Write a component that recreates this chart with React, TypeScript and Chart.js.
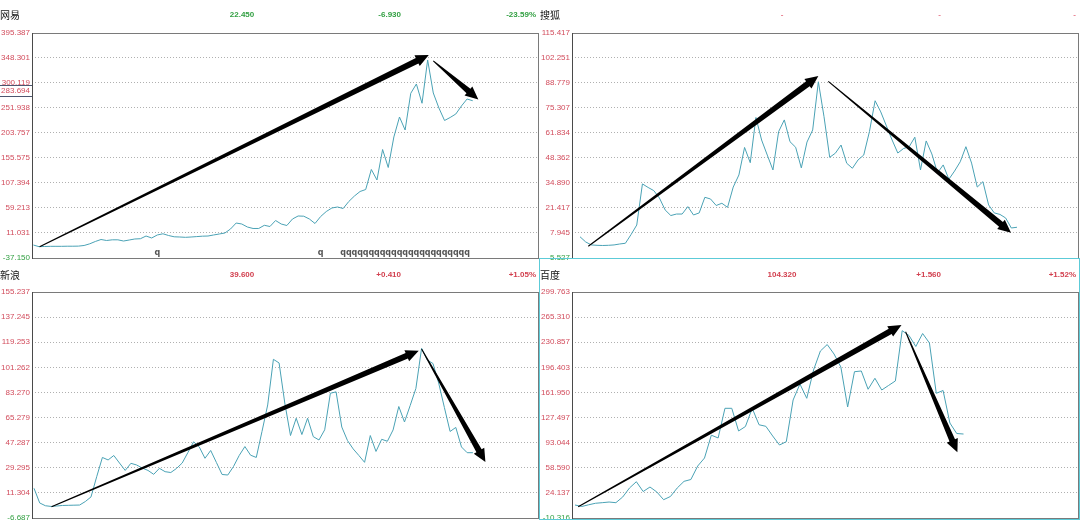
import React, { useEffect, useRef } from 'react';
import { Chart, registerables } from 'chart.js';

Chart.register(...registerables);

// ---------- data ----------
const P1_NAME = '网易';
const P1_QUOTE = ['22.450', '-6.930', '-23.59%'];
const P1_TICKS = [-37.15, 11.031, 59.213, 107.394, 155.575, 203.757, 251.938, 300.119, 348.301, 395.387];
const P1_VALUES = [
  -12.2, -15.4, -15.0, -14.7, -14.7, -14.7, -14.5, -14.5, -14.3, -13.1,
  -9.9, -5.4, -1.6, -3.5, -2.2, -2.2, -4.5, -2.6, -0.6, -0.1,
  5.1, 1.3, 7.1, 9.4, 6.1, 3.6, 3.2, 2.6, 3.2, 4.0,
  4.8, 5.1, 7.1, 9.0, 10.9, 18.6, 30.1, 28.2, 22.4, 19.6,
  19.6, 25.7, 23.4, 34.9, 28.2, 25.3, 37.8, 43.6, 43.2, 37.8,
  29.2, 42.6, 52.2, 59.0, 60.9, 58.0, 71.5, 82.0, 90.7, 94.5,
  133.0, 112.8, 171.4, 136.8, 195.5, 233.9, 208.9, 279.5, 297.4, 260.3,
  343.5, 280.1, 251.2, 227.2, 233.0, 239.7, 255.1, 268.5, 265.2,
];
const P1_MARKS = [22, 51, 55, 56, 57, 58, 59, 60, 61, 62, 63, 64, 65, 66, 67, 68, 69, 70, 71, 72, 73, 74, 75, 76, 77];
const P1_LAST = 283.694;
const P1_ARROWS = [
  [1.1, -15.4, 70.2, 353.1],
  [71.0, 341.6, 79.0, 267.6],
];

const P2_NAME = '搜狐';
const P2_QUOTE = ['-', '-', '-'];
const P2_TICKS = [-5.527, 7.945, 21.417, 34.89, 48.362, 61.834, 75.307, 88.779, 102.251, 115.417];
const P2_VALUES = [
  5.9, 3.1, 1.5, 1.3, 1.2, 1.3, 1.5, 2.0, 2.4, 7.1,
  12.2, 34.3, 32.4, 30.7, 26.7, 20.3, 17.3, 18.1, 18.1, 22.1,
  17.6, 18.7, 27.1, 26.2, 22.7, 23.9, 21.7, 32.6, 39.1, 53.9,
  45.7, 70.0, 57.9, 49.8, 41.8, 62.4, 68.7, 57.0, 54.0, 42.9,
  56.8, 63.3, 89.2, 70.4, 48.6, 50.8, 55.2, 45.4, 42.7, 47.2,
  49.8, 62.4, 79.0, 73.0, 65.4, 57.9, 50.9, 53.3, 54.3, 59.4,
  41.8, 57.4, 50.4, 40.2, 44.5, 36.8, 41.2, 46.2, 54.3, 45.5,
  32.6, 35.5, 23.0, 18.7, 17.9, 16.0, 10.6, 11.0,
];
const P2_ARROWS = [
  [1.46, 0.8, 42.0, 92.3],
  [43.75, 89.4, 75.95, 8.1],
];

const P3_NAME = '新浪';
const P3_QUOTE = ['39.600', '+0.410', '+1.05%'];
const P3_TICKS = [-6.687, 11.304, 29.295, 47.287, 65.279, 83.27, 101.262, 119.253, 137.245, 155.237];
const P3_VALUES = [
  14.6, 4.1, 2.1, 1.6, 1.9, 2.3, 2.4, 2.5, 2.6, 5.1,
  8.4, 22.9, 36.7, 34.9, 38.1, 32.7, 27.4, 32.5, 31.3, 29.1,
  27.4, 24.6, 28.9, 26.5, 25.9, 28.8, 32.7, 40.2, 47.9, 44.2,
  36.1, 41.7, 33.1, 24.5, 24.1, 30.2, 38.1, 44.5, 38.3, 36.7,
  55.3, 74.3, 107.0, 104.4, 75.7, 52.4, 64.8, 53.1, 64.8, 51.6,
  49.2, 56.5, 82.7, 83.7, 58.5, 48.8, 42.8, 38.1, 33.2, 52.4,
  41.0, 49.7, 48.3, 56.4, 73.2, 62.1, 73.9, 86.1, 114.9, 106.5,
  104.0, 90.0, 72.5, 55.3, 58.2, 44.2, 40.1, 40.1,
];
const P3_ARROWS = [
  [3.07, 1.4, 67.5, 113.2],
  [68.0, 114.4, 79.2, 33.4],
];

const P4_NAME = '百度';
const P4_QUOTE = ['104.320', '+1.560', '+1.52%'];
const P4_TICKS = [-10.316, 24.137, 58.59, 93.044, 127.497, 161.95, 196.403, 230.857, 265.31, 299.763];
const P4_VALUES = [
  7.5, 5.5, 7.8, 9.9, 10.7, 11.6, 10.7, 18.5, 30.9, 39.5,
  26.0, 32.2, 25.4, 14.8, 19.2, 30.9, 40.0, 42.5, 61.0, 72.0,
  103.3, 99.5, 140.2, 140.2, 109.1, 115.2, 140.2, 117.6, 115.5, 102.2,
  89.8, 94.4, 151.6, 173.5, 153.9, 192.8, 218.8, 227.7, 214.7, 196.9,
  142.0, 190.4, 191.4, 166.3, 181.4, 165.3, 171.5, 177.7, 246.7, 240.1,
  225.0, 242.8, 229.8, 160.8, 164.6, 120.0, 105.6, 104.9,
];
const P4_ARROWS = [
  [0.47, 5.2, 47.9, 254.5],
  [48.5, 245.3, 56.1, 79.8],
];

// ---------- styles ----------
const GREEN = '#33a043';
const RED = '#d2404f';
const PINK = '#e8788a';
const TICK_RED = '#d24c5c';
const LINE = '#4aa2b5';

const PANELS = [
  { name: P1_NAME, quote: P1_QUOTE, quoteColor: GREEN, ticks: P1_TICKS, values: P1_VALUES, arrows: P1_ARROWS, marks: P1_MARKS, last: P1_LAST, left: 0, top: 0, padTop: 33, xMin: -0.249, xMax: 89.77 },
  { name: P2_NAME, quote: P2_QUOTE, quoteColor: PINK, ticks: P2_TICKS, values: P2_VALUES, arrows: P2_ARROWS, marks: null, last: null, left: 540, top: 0, padTop: 33, xMin: -1.41, xMax: 87.93 },
  { name: P3_NAME, quote: P3_QUOTE, quoteColor: RED, ticks: P3_TICKS, values: P3_VALUES, arrows: P3_ARROWS, marks: null, last: null, left: 0, top: 260, padTop: 32, xMin: -0.351, xMax: 88.6 },
  { name: P4_NAME, quote: P4_QUOTE, quoteColor: RED, ticks: P4_TICKS, values: P4_VALUES, arrows: P4_ARROWS, marks: null, last: null, left: 540, top: 260, padTop: 32, xMin: -0.44, xMax: 73.94 },
];

function drawArrow(ctx: CanvasRenderingContext2D, x0: number, y0: number, x1: number, y1: number) {
  const dx = x1 - x0, dy = y1 - y0;
  const len = Math.hypot(dx, dy);
  const ux = dx / len, uy = dy / len;
  const nx = -uy, ny = ux;
  const H = 13, W = 6, w0 = 0.5, w1 = 3.0;
  const bx = x1 - ux * H, by = y1 - uy * H;
  ctx.beginPath();
  ctx.moveTo(x0 + nx * w0, y0 + ny * w0);
  ctx.lineTo(bx + nx * w1, by + ny * w1);
  ctx.lineTo(bx + nx * W, by + ny * W);
  ctx.lineTo(x1, y1);
  ctx.lineTo(bx - nx * W, by - ny * W);
  ctx.lineTo(bx - nx * w1, by - ny * w1);
  ctx.lineTo(x0 - nx * w0, y0 - ny * w0);
  ctx.closePath();
  ctx.fill();
}

function buildConfig(p: any) {
  const overlay = {
    id: 'overlay' + p.name,
    afterDraw(chart: any) {
      const { ctx, chartArea: a, scales } = chart;
      const xs = scales.x, ys = scales.y;
      ctx.save();
      ctx.setLineDash([]);
      // frame
      ctx.strokeStyle = '#7a7a7a';
      ctx.lineWidth = 1;
      ctx.strokeRect(a.left + 0.5, a.top + 0.5, a.right - a.left - 1, a.bottom - a.top);
      ctx.strokeStyle = '#4a4a4a';
      ctx.beginPath();
      ctx.moveTo(a.left + 0.5, a.top);
      ctx.lineTo(a.left + 0.5, a.bottom + 1);
      ctx.stroke();

      // arrows
      ctx.fillStyle = '#000';
      p.arrows.forEach((ar: number[]) => {
        drawArrow(ctx, xs.getPixelForValue(ar[0]), ys.getPixelForValue(ar[1]), xs.getPixelForValue(ar[2]), ys.getPixelForValue(ar[3]));
      });

      // event markers
      if (p.marks) {
        ctx.font = 'bold 8px "DejaVu Sans"';
        ctx.fillStyle = '#555';
        ctx.textAlign = 'center';
        ctx.textBaseline = 'middle';
        p.marks.forEach((m: number) => ctx.fillText('q', xs.getPixelForValue(m), a.bottom - 5));
      }

      // last price box
      if (p.last != null) {
        const y = Math.round(ys.getPixelForValue(p.last));
        ctx.strokeStyle = '#4c5670';
        ctx.beginPath();
        ctx.moveTo(0, y - 5.5);
        ctx.lineTo(a.left, y - 5.5);
        ctx.moveTo(0, y + 5.5);
        ctx.lineTo(a.left, y + 5.5);
        ctx.stroke();
        ctx.fillStyle = '#fff';
        ctx.fillRect(0, y - 5, a.left - 1, 10);
        ctx.font = '8px "Liberation Sans"';
        ctx.fillStyle = TICK_RED;
        ctx.textAlign = 'right';
        ctx.textBaseline = 'middle';
        ctx.fillText(p.last.toFixed(3), a.left - 2, y);
      }

      // header
      ctx.textBaseline = 'middle';
      ctx.textAlign = 'left';
      ctx.fillStyle = '#111';
      ctx.font = '10px "Noto Sans CJK SC"';
      ctx.fillText(p.name, 0, 15);
      ctx.font = 'bold 8px "Liberation Sans"';
      ctx.fillStyle = p.quoteColor;
      ctx.textAlign = 'center';
      ctx.fillText(p.quote[0], 242, 15);
      ctx.textAlign = 'right';
      ctx.fillText(p.quote[1], 401, 15);
      ctx.fillText(p.quote[2], 536, 15);
      ctx.restore();
    },
  };

  return {
    type: 'line',
    data: {
      datasets: [
        {
          data: p.values.map((v: number, i: number) => ({ x: i, y: v })),
          borderColor: LINE,
          borderWidth: 1,
          pointRadius: 0,
          tension: 0,
          fill: false,
        },
      ],
    },
    options: {
      animation: false,
      responsive: false,
      devicePixelRatio: 1,
      events: [],
      layout: { padding: { top: p.padTop, right: 1, bottom: 2, left: 0 } },
      plugins: { legend: { display: false }, tooltip: { enabled: false }, title: { display: false } },
      scales: {
        x: { type: 'linear', min: p.xMin, max: p.xMax, display: false },
        y: {
          type: 'linear',
          min: p.ticks[0],
          max: p.ticks[p.ticks.length - 1],
          afterBuildTicks: (s: any) => {
            s.ticks = p.ticks.map((v: number) => ({ value: v }));
          },
          afterFit: (s: any) => {
            s.width = 32;
            s.paddingTop = 0;
            s.paddingBottom = 0;
          },
          ticks: {
            autoSkip: false,
            padding: 2,
            font: { size: 8, family: '"Liberation Sans", Arial, sans-serif' },
            color: (c: any) => (c.index === 0 ? GREEN : TICK_RED),
            callback: (v: any) => Number(v).toFixed(3),
          },
          grid: { color: '#b0b0b0', drawTicks: false, lineWidth: 1 },
          border: { display: false, dash: [1, 2] },
        },
      },
    },
    plugins: [overlay],
  };
}

export default function App() {
  const r0 = useRef<HTMLCanvasElement>(null);
  const r1 = useRef<HTMLCanvasElement>(null);
  const r2 = useRef<HTMLCanvasElement>(null);
  const r3 = useRef<HTMLCanvasElement>(null);
  const refs = [r0, r1, r2, r3];

  useEffect(() => {
    const charts = PANELS.map((p, i) => new Chart(refs[i].current as HTMLCanvasElement, buildConfig(p) as any));
    return () => charts.forEach((c) => c.destroy());
  }, []);

  return (
    <div style={{ position: 'absolute', left: 0, top: 0, width: 1080, height: 520, background: '#fff', overflow: 'hidden' }}>
      {PANELS.map((p, i) => (
        <canvas
          key={i}
          ref={refs[i]}
          width={540}
          height={260}
          style={{ position: 'absolute', left: p.left, top: p.top, width: 540, height: 260 }}
        />
      ))}
      <div
        style={{
          position: 'absolute',
          left: 539,
          top: 258,
          width: 539,
          height: 260,
          border: '1px solid #5ccbd8',
          pointerEvents: 'none',
        }}
      />
    </div>
  );
}
